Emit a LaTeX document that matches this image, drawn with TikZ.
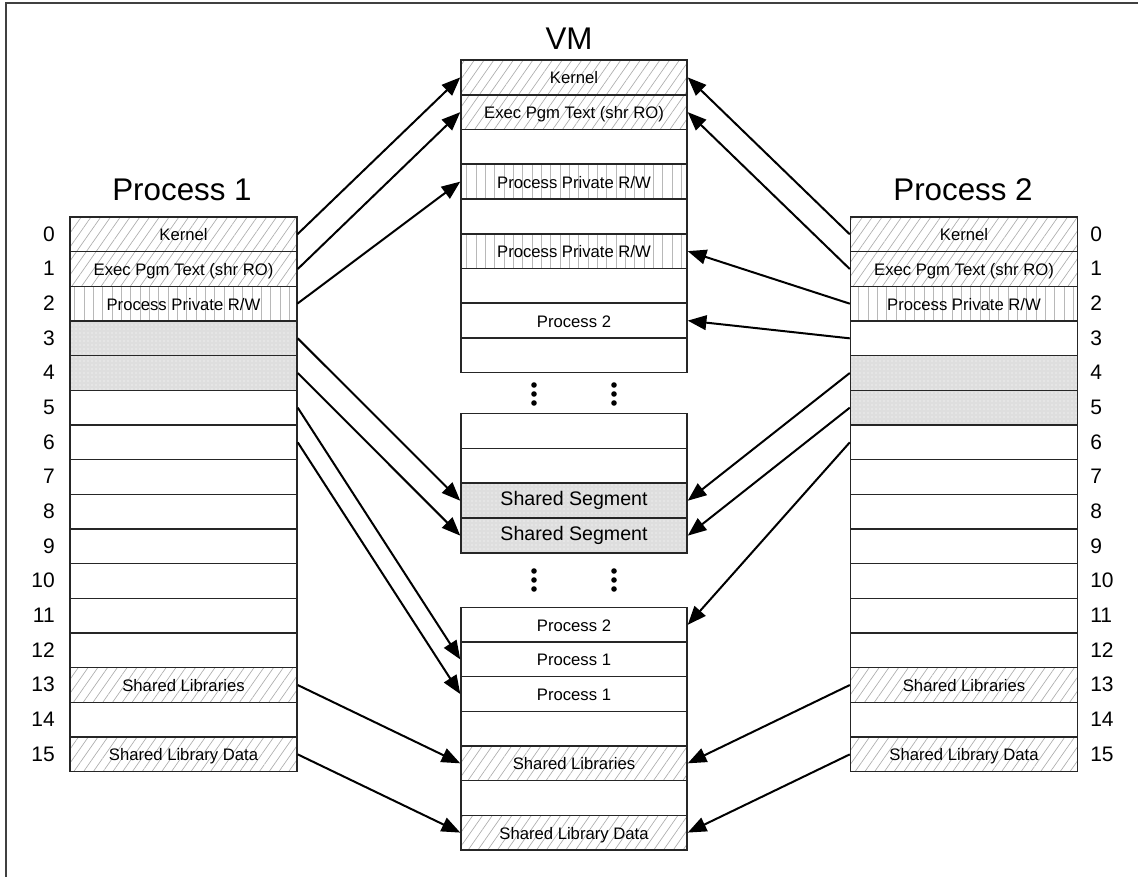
\documentclass[tikz,border=0pt]{standalone}
\usepackage{fontspec}
\setmainfont{Liberation Sans}
\usetikzlibrary{arrows.meta,patterns.meta}

\tikzset{
  cell/.style={draw=black!85, line width=1.1pt, minimum height=26pt, inner sep=0pt,
    text height=1.2em, text depth=0.24em, font=\fontsize{12.5}{15}\selectfont},
  pcell/.style={cell, minimum width=170.25pt},
  vmcell/.style={cell, minimum width=169.5pt},
  hatch/.style={pattern={Lines[angle=55,distance=6pt,line width=0.5pt]}, pattern color=black!32},
  vlines/.style={pattern={Lines[angle=90,distance=7pt,line width=0.5pt]}, pattern color=black!28},
  dotfill/.style={preaction={fill=black!13}, pattern={Dots[distance=3pt,radius=0.4pt]}, pattern color=white},
  emptycell/.style={fill=white},
  bigtext/.style={font=\fontsize{14.7}{17}\selectfont, text height=0.9em, text depth=0.24em},
  title/.style={font=\fontsize{23.5}{28}\selectfont, anchor=base, inner sep=0pt},
  rownum/.style={font=\fontsize{15.75}{18}\selectfont, inner sep=0pt, text height=1.1em, text depth=0.1em},
  arr/.style={-{Triangle[length=14pt,width=11pt]}, line width=1.5pt, black},
  dot/.style={circle, fill=black, inner sep=0pt, minimum size=4.2pt},
}

\begin{document}
\begin{tikzpicture}[x=0.75pt, y=-0.75pt]
\useasboundingbox (0,0) rectangle (1138,877);

% frame (top and left edges)
\draw[line width=0.8pt, black!75] (6,877) -- (6,3) -- (1138,3);

% titles
\node[title] (t1) at (182,201) {Process 1};
\node[title] (tvm) at (569,50) {VM};
\node[title] (t2) at (963,201) {Process 2};

% Process 1 address space
\foreach \i/\s/\t in {0/hatch/Kernel, 1/hatch/{Exec Pgm Text (shr RO)}, 2/vlines/{Process Private R/W},
    3/dotfill/{}, 4/dotfill/{}, 5/emptycell/{}, 6/emptycell/{}, 7/emptycell/{}, 8/emptycell/{},
    9/emptycell/{}, 10/emptycell/{}, 11/emptycell/{}, 12/emptycell/{},
    13/hatch/{Shared Libraries}, 14/emptycell/{}, 15/hatch/{Shared Library Data}} {
  \node[pcell, \s] (p1r\i) at (183.5, {217+34.67*(\i+0.5)}) {\t};
  \node[rownum, anchor=east] (n1r\i) at (55, {217+34.67*(\i+0.5)}) {\i};
}

% Process 2 address space
\foreach \i/\s/\t in {0/hatch/Kernel, 1/hatch/{Exec Pgm Text (shr RO)}, 2/vlines/{Process Private R/W},
    3/emptycell/{}, 4/dotfill/{}, 5/dotfill/{}, 6/emptycell/{}, 7/emptycell/{}, 8/emptycell/{},
    9/emptycell/{}, 10/emptycell/{}, 11/emptycell/{}, 12/emptycell/{},
    13/hatch/{Shared Libraries}, 14/emptycell/{}, 15/hatch/{Shared Library Data}} {
  \node[pcell, \s] (p2r\i) at (964, {217+34.67*(\i+0.5)}) {\t};
  \node[rownum, anchor=west] (n2r\i) at (1090, {217+34.67*(\i+0.5)}) {\i};
}

% VM: upper block
\foreach \i/\s/\t in {0/hatch/Kernel, 1/hatch/{Exec Pgm Text (shr RO)}, 2/emptycell/{},
    3/vlines/{Process Private R/W}, 4/emptycell/{}, 5/vlines/{Process Private R/W},
    6/emptycell/{}, 7/emptycell/{Process 2}, 8/emptycell/{}} {
  \node[vmcell, \s] (vmA\i) at (574, {60+34.75*(\i+0.5)}) {\t};
}

% VM: shared segment block
\foreach \i/\s/\t in {0/emptycell/{}, 1/emptycell/{}, 2/dotfill/{Shared Segment}, 3/dotfill/{Shared Segment}} {
  \node[vmcell, bigtext, \s] (vmB\i) at (574, {413.5+34.9*(\i+0.5)}) {\t};
}

% VM: lower block
\foreach \i/\s/\t in {0/emptycell/{Process 2}, 1/emptycell/{Process 1}, 2/emptycell/{Process 1},
    3/emptycell/{}, 4/hatch/{Shared Libraries}, 5/emptycell/{}, 6/hatch/{Shared Library Data}} {
  \node[vmcell, \s] (vmC\i) at (574, {607.5+34.63*(\i+0.5)}) {\t};
}

% ellipsis dots between the VM blocks
\foreach \k/\y in {1/385, 2/394, 3/403} {
  \node[dot] (da\k) at (534,\y) {};
  \node[dot] (db\k) at (614,\y) {};
}
\foreach \k/\y in {1/571, 2/580, 3/589} {
  \node[dot] (dc\k) at (534,\y) {};
  \node[dot] (dd\k) at (614,\y) {};
}

% Process 1 mappings
\draw[arr] (p1r0.east) -- (vmA0.west);
\draw[arr] (p1r1.east) -- (vmA1.west);
\draw[arr] (p1r2.east) -- (vmA3.west);
\draw[arr] (p1r3.east) -- (vmB2.west);
\draw[arr] (p1r4.east) -- (vmB3.west);
\draw[arr] (p1r5.east) -- (vmC1.west);
\draw[arr] (p1r6.east) -- (vmC2.west);
\draw[arr] (p1r13.east) -- (vmC4.west);
\draw[arr] (p1r15.east) -- (vmC6.west);

% Process 2 mappings
\draw[arr] (p2r0.west) -- (vmA0.east);
\draw[arr] (p2r1.west) -- (vmA1.east);
\draw[arr] (p2r2.west) -- (vmA5.east);
\draw[arr] (p2r3.west) -- (vmA7.east);
\draw[arr] (p2r4.west) -- (vmB2.east);
\draw[arr] (p2r5.west) -- (vmB3.east);
\draw[arr] (p2r6.west) -- (vmC0.east);
\draw[arr] (p2r13.west) -- (vmC4.east);
\draw[arr] (p2r15.west) -- (vmC6.east);
\end{tikzpicture}
\end{document}
